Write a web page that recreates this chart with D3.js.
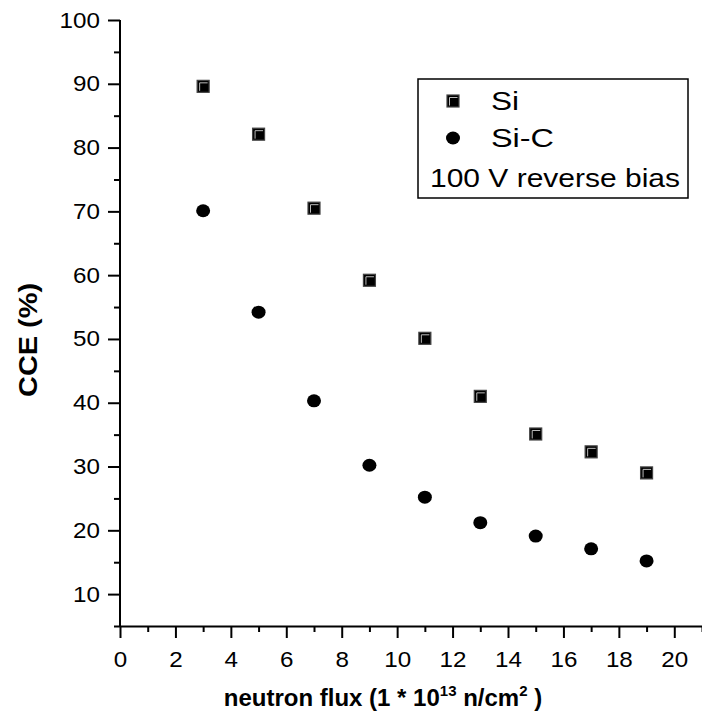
<!DOCTYPE html>
<html><head><meta charset="utf-8">
<script src="https://cdn.jsdelivr.net/npm/d3@7"></script>
<style>body{margin:0;background:#fff}svg{display:block;font-family:"Liberation Sans",Arial,sans-serif}</style>
</head><body>
<svg id="c" width="702" height="728"></svg>
<script>
const flux = [3, 5, 7, 9, 11, 13, 15, 17, 19];
const siValues = [89.6, 82.1, 70.5, 59.2, 50.1, 41.0, 35.1, 32.3, 29.0];
const sicValues = [70.1, 54.2, 40.3, 30.2, 25.2, 21.2, 19.1, 17.1, 15.2];
const xTickLabels = [0, 2, 4, 6, 8, 10, 12, 14, 16, 18, 20];
const yTickLabels = [10, 20, 30, 40, 50, 60, 70, 80, 90, 100];
const legendLabels = ["Si", "Si-C", "100 V reverse bias"];

const svg = d3.select("#c");
const x = d3.scaleLinear().domain([0, 21]).range([120, 702]);
const y = d3.scaleLinear().domain([5, 100]).range([626, 20]);

// axes
const gx = svg.append("g").attr("transform", "translate(0,626)");
gx.call(d3.axisBottom(x).tickValues(d3.range(1, 22, 2)).tickSize(6).tickFormat(""));
gx.call(g => g.select(".domain").remove());
const gx2 = svg.append("g").attr("transform", "translate(0,626)");
gx2.call(d3.axisBottom(x).tickValues(xTickLabels).tickSize(12).tickPadding(13).tickFormat(d3.format("d")));
gx2.select(".domain").attr("d", `M${x(0)},0.5H702`);

const gy = svg.append("g").attr("transform", "translate(120,0)");
gy.call(d3.axisLeft(y).tickValues(d3.range(5, 100, 10)).tickSize(6).tickFormat(""));
gy.call(g => g.select(".domain").remove());
const gy2 = svg.append("g").attr("transform", "translate(120,0)");
gy2.call(d3.axisLeft(y).tickValues(yTickLabels).tickSize(12).tickPadding(8).tickFormat(d3.format("d")));
gy2.select(".domain").attr("d", `M0,${y(100)}V${y(5)}`);

svg.selectAll(".domain, .tick line").attr("stroke", "#000").attr("stroke-width", 2);
svg.selectAll("g").attr("font-family", null).attr("font-size", null);
svg.selectAll(".tick text").attr("font-size", 22).attr("fill", "#000")
  .each(function () {
    const w = this.getComputedTextLength();
    if (w > 0) d3.select(this).attr("textLength", w * 1.1).attr("lengthAdjust", "spacingAndGlyphs");
  });

// square marker
function square(g, cx, cy) {
  g.append("rect").attr("x", cx - 6).attr("y", cy - 6).attr("width", 12).attr("height", 12)
    .attr("fill", "#000").attr("stroke", "#444").attr("stroke-width", 1.2);
  g.append("path").attr("d", `M${cx - 3.5},${cy + 4.5}V${cy - 3.5}H${cx + 4.5}`)
    .attr("fill", "none").attr("stroke", "#bbb").attr("stroke-width", 1);
}

const pts = svg.append("g");
flux.forEach((f, i) => square(pts, x(f), y(siValues[i])));
pts.selectAll("ellipse").data(flux).join("ellipse")
  .attr("cx", d => x(d)).attr("cy", (d, i) => y(sicValues[i]))
  .attr("rx", 7).attr("ry", 6.5).attr("fill", "#000");

// legend
const lg = svg.append("g");
lg.append("rect").attr("x", 418).attr("y", 79).attr("width", 270).attr("height", 119)
  .attr("fill", "#fff").attr("stroke", "#000").attr("stroke-width", 1.5);
square(lg, 453, 101);
lg.append("ellipse").attr("cx", 453).attr("cy", 138).attr("rx", 7).attr("ry", 6.5).attr("fill", "#000");
lg.append("text").attr("x", 491).attr("y", 110).attr("font-size", 26)
  .attr("textLength", 28).attr("lengthAdjust", "spacingAndGlyphs").text(legendLabels[0]);
lg.append("text").attr("x", 491).attr("y", 147).attr("font-size", 26)
  .attr("textLength", 63).attr("lengthAdjust", "spacingAndGlyphs").text(legendLabels[1]);
lg.append("text").attr("x", 430).attr("y", 187).attr("font-size", 25)
  .attr("textLength", 250).attr("lengthAdjust", "spacingAndGlyphs").text(legendLabels[2]);

// axis titles
svg.append("text").attr("transform", "translate(37,340) rotate(-90)").attr("text-anchor", "middle")
  .attr("font-size", 26).attr("font-weight", "bold")
  .attr("textLength", 114).attr("lengthAdjust", "spacingAndGlyphs").text("CCE (%)");
const xt = svg.append("text").attr("x", 383).attr("y", 706).attr("text-anchor", "middle")
  .attr("font-size", 24).attr("font-weight", "bold");
xt.append("tspan").text("neutron flux (1 * 10");
xt.append("tspan").attr("dy", -10).attr("font-size", 15).text("13");
xt.append("tspan").attr("dy", 10).text(" n/cm");
xt.append("tspan").attr("dy", -10).attr("font-size", 15).text("2");
xt.append("tspan").attr("dy", 10).text(" )");
</script>
</body></html>
